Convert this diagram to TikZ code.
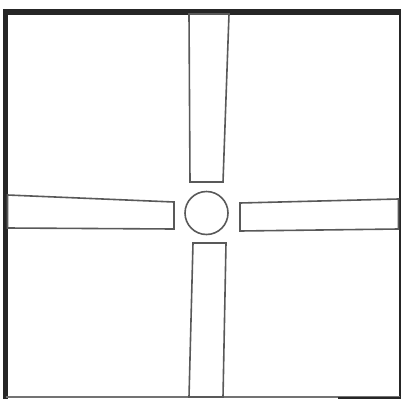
\documentclass[tikz,border=0pt]{standalone}
\begin{document}
\begin{tikzpicture}[x=1pt,y=-1pt,
  blade/.style={draw=black!65, line width=1.6pt, line join=miter},
  frame/.style={draw=black!85}]
\useasboundingbox (0,0) rectangle (401,399);
% frame
\draw[frame, line width=5.5pt] (3,12) -- (401,12);
\draw[frame, line width=4.5pt] (5.5,10) -- (5.5,399);
\draw[frame, line width=2pt] (399.5,10) -- (399.5,399);
\draw[draw=black!55, line width=1.5pt] (5.5,397) -- (399.5,397);
\draw[frame, line width=2pt] (338,397.5) -- (401,397.5);
% blades
\draw[blade] (189,14) -- (229,14) -- (223,182) -- (190,182) -- cycle;
\draw[blade] (193,243) -- (226,243) -- (223,397) -- (189,397) -- cycle;
\draw[blade] (7.5,195) -- (174,202) -- (174,229) -- (7.5,228) -- cycle;
\draw[blade] (240,203) -- (398.5,199) -- (398.5,229) -- (240,231) -- cycle;
% hub
\node[draw=black!65, line width=1.6pt, circle, minimum size=43pt, inner sep=0pt] (hub) at (206.5,213) {};
\end{tikzpicture}
\end{document}
